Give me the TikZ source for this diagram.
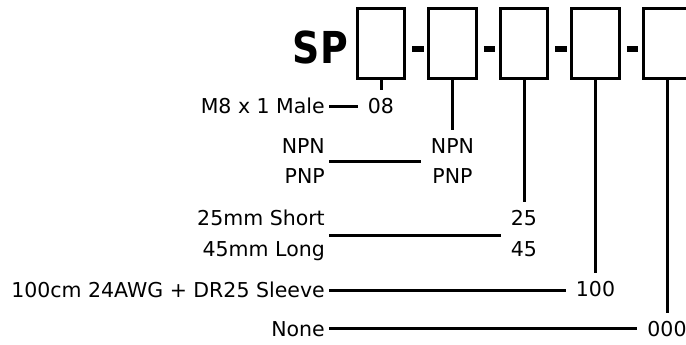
\documentclass[tikz,border=0pt]{standalone}
\usepackage{fontspec}
\setmainfont{DejaVu Sans}
\usepackage{tikz}
\definecolor{spInk}{RGB}{0,0,0}

\begin{document}
\begin{tikzpicture}[x=1pt,y=-1pt]
\tikzset{
slot/.style={draw=spInk,line width=3pt,minimum width=47.7pt,minimum height=70pt,inner sep=0pt},
hyph/.style={draw=spInk,line width=5.6pt},
opt/.style={font=\fontsize{20.5}{30.7}\selectfont,text=spInk,align=right,anchor=north east,
inner xsep=4pt,inner ysep=3pt},
code/.style={font=\fontsize{20.5}{30.7}\selectfont,text=spInk,align=center,anchor=north,
inner xsep=10pt,inner ysep=8pt},
wire/.style={draw=spInk,line width=3pt}
}
\useasboundingbox (0,0) rectangle (686,345);
\node[font=\bfseries\fontsize{44}{44}\selectfont,text=spInk,anchor=base east,inner sep=0pt] (sp) at (348,64) {\scalebox{0.86}[1]{SP}};
\foreach \i in {1,...,5}
  \node[slot] (b\i) at ({381+71.5*(\i-1)},43.5) {};
\foreach \i/\j in {1/2,2/3,3/4,4/5}
  \draw[hyph] ([xshift=6pt,yshift=-5.8pt]b\i.east) -- ([xshift=-3.5pt,yshift=-5.8pt]b\j.west);
% ordering options
\node[opt] (o1) at (329,95) {M8 x 1 Male};
\node[opt] (o2) at (329,135) {NPN\\PNP};
\node[opt] (o3) at (329,207) {25mm Short\\45mm Long};
\node[opt] (o4) at (329,279) {100cm 24AWG + DR25 Sleeve};
\node[opt] (o5) at (329,318) {None};
% codes, centred under their boxes
\node[code] (c1) at (381,90) {08};
\node[code] (c2) at (452.5,130) {NPN\\PNP};
\node[code] (c3) at (524,202) {25\\45};
\node[code] (c4) at (595.5,273) {100};
\node[code] (c5) at (667,313) {000};
\foreach \i in {1,...,5} {
  \draw[wire] (b\i.south) -- (c\i.north);
  \draw[wire] (o\i.east) -- (o\i.east -| c\i.west);
}
\end{tikzpicture}
\end{document}
